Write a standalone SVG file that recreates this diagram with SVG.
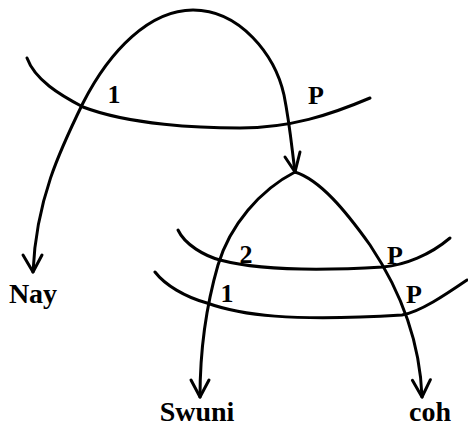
<svg xmlns="http://www.w3.org/2000/svg" width="468" height="427" viewBox="0 0 468 427">
<style>
.ln{fill:none;stroke:#000;stroke-width:3;stroke-linecap:round;stroke-linejoin:round}
.t{font-family:'Liberation Serif','DejaVu Serif',serif;font-weight:bold;fill:#000;text-anchor:middle}
.lbl{font-size:26px}
.lf{font-size:28px}
</style>
<defs>
<marker id="ah" viewBox="-20 -12 24 24" markerWidth="24" markerHeight="24" refX="0" refY="0" markerUnits="userSpaceOnUse" orient="auto">
<path d="M-17,-9 L0,0 L-17,9" fill="none" stroke="#000" stroke-width="3" stroke-linecap="round" stroke-linejoin="round"/>
</marker>
</defs>
<g id="connectors">
<path class="ln" d="M27,58 C35,80 60,95 83,107 C130,125 200,128 240,128 C290,128 330,115 370,98"/>
<path class="ln" d="M178,230 C185,245 205,256 220,260 C250,268 300,272 383,267 C405,265 430,255 450,238"/>
<path class="ln" d="M155,272 C165,285 185,297 207,303 C240,315 290,322 402,315 C420,312 445,295 467,280"/>
<path class="ln" d="M33,272 C36,200 60,150 83,103 C110,50 150,10 193,10 C240,10 275,55 284,95 C290,125 292,150 295,172"/>
<path class="ln" d="M295,172 C260,190 230,225 218,265 C205,310 200,350 200,397" marker-end="url(#ah)"/>
<path class="ln" d="M295,172 C320,180 345,210 370,245 C400,290 420,340 422,397" marker-end="url(#ah)"/>
<path class="ln" d="M23,255 L33,272 L42,255"/>
<path class="ln" d="M285,157 L295,172 L300,152"/>
</g>
<g id="label-1a"><text class="t lbl" x="114" y="103" font-family="Liberation Serif, serif">1</text></g>
<g id="label-Pa"><text class="t lbl" x="316" y="104" font-family="Liberation Serif, serif">P</text></g>
<g id="label-2"><text class="t lbl" x="246" y="263" font-family="Liberation Serif, serif">2</text></g>
<g id="label-Pb"><text class="t lbl" x="395" y="264" font-family="Liberation Serif, serif">P</text></g>
<g id="label-1b"><text class="t lbl" x="227" y="302" font-family="Liberation Serif, serif">1</text></g>
<g id="label-Pc"><text class="t lbl" x="414" y="303" font-family="Liberation Serif, serif">P</text></g>
<g id="node-Nay"><text class="t lf" x="33" y="303" font-family="Liberation Serif, serif">Nay</text></g>
<g id="node-Swuni"><text class="t lf" x="197" y="421" font-family="Liberation Serif, serif">Swuni</text></g>
<g id="node-coh"><text class="t lf" x="430" y="421" font-family="Liberation Serif, serif">coh</text></g>
</svg>
